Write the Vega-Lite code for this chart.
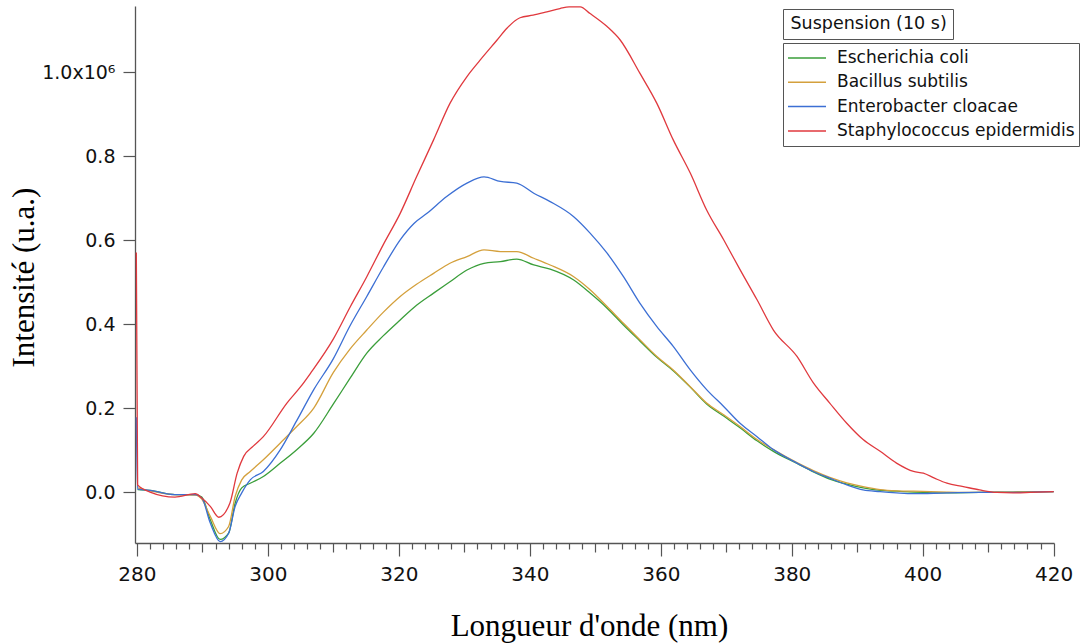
{
  "$schema": "https://vega.github.io/schema/vega-lite/v6.json",
  "width": 919,
  "height": 537,
  "autosize": {"type": "none"},
  "padding": {"left": 135, "top": 6, "right": 30, "bottom": 101},
  "background": "white",
  "config": {"view": {"stroke": null}, "font": "DejaVu Sans"},
  "datasets": {
    "spectra": [
      {"s":"Escherichia coli","x":280.1,"y":6000},{"s":"Escherichia coli","x":282.0,"y":4000},{"s":"Escherichia coli","x":285.8,"y":-6000},{"s":"Escherichia coli","x":288.9,"y":-6000},{"s":"Escherichia coli","x":289.9,"y":-12000},{"s":"Escherichia coli","x":291.2,"y":-66000},{"s":"Escherichia coli","x":292.7,"y":-113000},{"s":"Escherichia coli","x":294.0,"y":-98000},{"s":"Escherichia coli","x":295.0,"y":-26000},{"s":"Escherichia coli","x":296.0,"y":10000},{"s":"Escherichia coli","x":297.3,"y":21000},{"s":"Escherichia coli","x":299.3,"y":37000},{"s":"Escherichia coli","x":301.9,"y":69000},{"s":"Escherichia coli","x":304.4,"y":101000},{"s":"Escherichia coli","x":307.0,"y":140000},{"s":"Escherichia coli","x":310.0,"y":210000},{"s":"Escherichia coli","x":312.5,"y":270000},{"s":"Escherichia coli","x":315.1,"y":331000},{"s":"Escherichia coli","x":317.6,"y":372000},{"s":"Escherichia coli","x":320.2,"y":410000},{"s":"Escherichia coli","x":322.7,"y":445000},{"s":"Escherichia coli","x":325.3,"y":474000},{"s":"Escherichia coli","x":327.8,"y":501000},{"s":"Escherichia coli","x":330.4,"y":529000},{"s":"Escherichia coli","x":333.0,"y":545000},{"s":"Escherichia coli","x":335.5,"y":549000},{"s":"Escherichia coli","x":338.0,"y":555000},{"s":"Escherichia coli","x":340.6,"y":541000},{"s":"Escherichia coli","x":343.1,"y":531000},{"s":"Escherichia coli","x":346.7,"y":505000},{"s":"Escherichia coli","x":349.2,"y":474000},{"s":"Escherichia coli","x":351.8,"y":438000},{"s":"Escherichia coli","x":354.3,"y":398000},{"s":"Escherichia coli","x":356.8,"y":360000},{"s":"Escherichia coli","x":359.4,"y":321000},{"s":"Escherichia coli","x":361.9,"y":289000},{"s":"Escherichia coli","x":364.5,"y":250000},{"s":"Escherichia coli","x":367.0,"y":210000},{"s":"Escherichia coli","x":369.6,"y":181000},{"s":"Escherichia coli","x":372.1,"y":153000},{"s":"Escherichia coli","x":374.7,"y":122000},{"s":"Escherichia coli","x":377.2,"y":97000},{"s":"Escherichia coli","x":380.8,"y":68000},{"s":"Escherichia coli","x":383.3,"y":48000},{"s":"Escherichia coli","x":385.8,"y":31000},{"s":"Escherichia coli","x":388.4,"y":19000},{"s":"Escherichia coli","x":390.9,"y":10000},{"s":"Escherichia coli","x":393.5,"y":4000},{"s":"Escherichia coli","x":396.0,"y":2000},{"s":"Escherichia coli","x":398.6,"y":0},{"s":"Escherichia coli","x":403.7,"y":-2000},{"s":"Escherichia coli","x":408.7,"y":-1000},{"s":"Escherichia coli","x":413.8,"y":0},{"s":"Escherichia coli","x":420.0,"y":1000},

      {"s":"Bacillus subtilis","x":280.1,"y":10000},{"s":"Bacillus subtilis","x":282.0,"y":3000},{"s":"Bacillus subtilis","x":285.8,"y":-6000},{"s":"Bacillus subtilis","x":288.9,"y":-7000},{"s":"Bacillus subtilis","x":289.9,"y":-17000},{"s":"Bacillus subtilis","x":291.2,"y":-58000},{"s":"Bacillus subtilis","x":292.7,"y":-99000},{"s":"Bacillus subtilis","x":294.0,"y":-82000},{"s":"Bacillus subtilis","x":295.0,"y":-10000},{"s":"Bacillus subtilis","x":296.0,"y":29000},{"s":"Bacillus subtilis","x":297.3,"y":49000},{"s":"Bacillus subtilis","x":299.3,"y":77000},{"s":"Bacillus subtilis","x":301.9,"y":117000},{"s":"Bacillus subtilis","x":304.4,"y":156000},{"s":"Bacillus subtilis","x":307.0,"y":200000},{"s":"Bacillus subtilis","x":310.0,"y":285000},{"s":"Bacillus subtilis","x":312.5,"y":340000},{"s":"Bacillus subtilis","x":315.1,"y":386000},{"s":"Bacillus subtilis","x":317.6,"y":428000},{"s":"Bacillus subtilis","x":320.2,"y":466000},{"s":"Bacillus subtilis","x":322.7,"y":495000},{"s":"Bacillus subtilis","x":325.3,"y":521000},{"s":"Bacillus subtilis","x":327.8,"y":545000},{"s":"Bacillus subtilis","x":330.4,"y":561000},{"s":"Bacillus subtilis","x":333.0,"y":577000},{"s":"Bacillus subtilis","x":335.5,"y":573000},{"s":"Bacillus subtilis","x":338.0,"y":573000},{"s":"Bacillus subtilis","x":340.6,"y":557000},{"s":"Bacillus subtilis","x":343.1,"y":541000},{"s":"Bacillus subtilis","x":346.7,"y":513000},{"s":"Bacillus subtilis","x":349.2,"y":482000},{"s":"Bacillus subtilis","x":351.8,"y":442000},{"s":"Bacillus subtilis","x":354.3,"y":402000},{"s":"Bacillus subtilis","x":356.8,"y":363000},{"s":"Bacillus subtilis","x":359.4,"y":323000},{"s":"Bacillus subtilis","x":361.9,"y":291000},{"s":"Bacillus subtilis","x":364.5,"y":251000},{"s":"Bacillus subtilis","x":367.0,"y":212000},{"s":"Bacillus subtilis","x":369.6,"y":184000},{"s":"Bacillus subtilis","x":372.1,"y":156000},{"s":"Bacillus subtilis","x":374.7,"y":125000},{"s":"Bacillus subtilis","x":377.2,"y":101000},{"s":"Bacillus subtilis","x":380.8,"y":70000},{"s":"Bacillus subtilis","x":383.3,"y":51000},{"s":"Bacillus subtilis","x":385.8,"y":35000},{"s":"Bacillus subtilis","x":388.4,"y":22000},{"s":"Bacillus subtilis","x":390.9,"y":13000},{"s":"Bacillus subtilis","x":393.5,"y":6000},{"s":"Bacillus subtilis","x":396.0,"y":3000},{"s":"Bacillus subtilis","x":398.6,"y":2000},{"s":"Bacillus subtilis","x":403.7,"y":0},{"s":"Bacillus subtilis","x":408.7,"y":-1000},{"s":"Bacillus subtilis","x":413.8,"y":0},{"s":"Bacillus subtilis","x":420.0,"y":1000},

      {"s":"Enterobacter cloacae","x":279.9,"y":178000},{"s":"Enterobacter cloacae","x":280.1,"y":7000},{"s":"Enterobacter cloacae","x":282.0,"y":4000},{"s":"Enterobacter cloacae","x":285.8,"y":-6000},{"s":"Enterobacter cloacae","x":288.9,"y":-6000},{"s":"Enterobacter cloacae","x":289.9,"y":-14000},{"s":"Enterobacter cloacae","x":291.2,"y":-74000},{"s":"Enterobacter cloacae","x":292.7,"y":-118000},{"s":"Enterobacter cloacae","x":294.0,"y":-98000},{"s":"Enterobacter cloacae","x":295.0,"y":-34000},{"s":"Enterobacter cloacae","x":296.0,"y":-2000},{"s":"Enterobacter cloacae","x":297.3,"y":29000},{"s":"Enterobacter cloacae","x":299.3,"y":49000},{"s":"Enterobacter cloacae","x":301.9,"y":101000},{"s":"Enterobacter cloacae","x":304.4,"y":170000},{"s":"Enterobacter cloacae","x":307.0,"y":244000},{"s":"Enterobacter cloacae","x":310.0,"y":318000},{"s":"Enterobacter cloacae","x":312.5,"y":395000},{"s":"Enterobacter cloacae","x":315.1,"y":466000},{"s":"Enterobacter cloacae","x":317.6,"y":535000},{"s":"Enterobacter cloacae","x":320.2,"y":601000},{"s":"Enterobacter cloacae","x":322.3,"y":640000},{"s":"Enterobacter cloacae","x":324.3,"y":664000},{"s":"Enterobacter cloacae","x":327.3,"y":704000},{"s":"Enterobacter cloacae","x":330.4,"y":736000},{"s":"Enterobacter cloacae","x":333.0,"y":751000},{"s":"Enterobacter cloacae","x":335.5,"y":740000},{"s":"Enterobacter cloacae","x":338.0,"y":736000},{"s":"Enterobacter cloacae","x":340.6,"y":712000},{"s":"Enterobacter cloacae","x":343.1,"y":692000},{"s":"Enterobacter cloacae","x":346.7,"y":656000},{"s":"Enterobacter cloacae","x":349.2,"y":617000},{"s":"Enterobacter cloacae","x":351.8,"y":569000},{"s":"Enterobacter cloacae","x":354.3,"y":513000},{"s":"Enterobacter cloacae","x":356.8,"y":450000},{"s":"Enterobacter cloacae","x":359.4,"y":394000},{"s":"Enterobacter cloacae","x":361.9,"y":347000},{"s":"Enterobacter cloacae","x":364.5,"y":291000},{"s":"Enterobacter cloacae","x":367.0,"y":244000},{"s":"Enterobacter cloacae","x":369.6,"y":204000},{"s":"Enterobacter cloacae","x":372.1,"y":164000},{"s":"Enterobacter cloacae","x":374.7,"y":132000},{"s":"Enterobacter cloacae","x":377.2,"y":101000},{"s":"Enterobacter cloacae","x":380.8,"y":69000},{"s":"Enterobacter cloacae","x":383.3,"y":49000},{"s":"Enterobacter cloacae","x":385.8,"y":33000},{"s":"Enterobacter cloacae","x":388.4,"y":17000},{"s":"Enterobacter cloacae","x":390.9,"y":5000},{"s":"Enterobacter cloacae","x":393.5,"y":1000},{"s":"Enterobacter cloacae","x":396.0,"y":-2000},{"s":"Enterobacter cloacae","x":398.6,"y":-4000},{"s":"Enterobacter cloacae","x":403.7,"y":-2000},{"s":"Enterobacter cloacae","x":408.7,"y":-1000},{"s":"Enterobacter cloacae","x":413.8,"y":-1000},{"s":"Enterobacter cloacae","x":420.0,"y":1000},

      {"s":"Staphylococcus epidermidis","x":279.9,"y":571000},{"s":"Staphylococcus epidermidis","x":280.1,"y":17000},{"s":"Staphylococcus epidermidis","x":282.0,"y":0},{"s":"Staphylococcus epidermidis","x":285.8,"y":-12000},{"s":"Staphylococcus epidermidis","x":288.9,"y":-4000},{"s":"Staphylococcus epidermidis","x":289.9,"y":-14000},{"s":"Staphylococcus epidermidis","x":291.2,"y":-34000},{"s":"Staphylococcus epidermidis","x":292.5,"y":-60000},{"s":"Staphylococcus epidermidis","x":294.2,"y":-26000},{"s":"Staphylococcus epidermidis","x":295.3,"y":45000},{"s":"Staphylococcus epidermidis","x":296.3,"y":85000},{"s":"Staphylococcus epidermidis","x":297.8,"y":110000},{"s":"Staphylococcus epidermidis","x":299.3,"y":132000},{"s":"Staphylococcus epidermidis","x":302.9,"y":212000},{"s":"Staphylococcus epidermidis","x":305.0,"y":251000},{"s":"Staphylococcus epidermidis","x":306.5,"y":283000},{"s":"Staphylococcus epidermidis","x":310.0,"y":365000},{"s":"Staphylococcus epidermidis","x":312.6,"y":442000},{"s":"Staphylococcus epidermidis","x":315.1,"y":513000},{"s":"Staphylococcus epidermidis","x":317.6,"y":589000},{"s":"Staphylococcus epidermidis","x":320.2,"y":664000},{"s":"Staphylococcus epidermidis","x":322.7,"y":751000},{"s":"Staphylococcus epidermidis","x":325.3,"y":839000},{"s":"Staphylococcus epidermidis","x":327.8,"y":926000},{"s":"Staphylococcus epidermidis","x":330.4,"y":990000},{"s":"Staphylococcus epidermidis","x":332.4,"y":1029000},{"s":"Staphylococcus epidermidis","x":335.0,"y":1077000},{"s":"Staphylococcus epidermidis","x":336.5,"y":1105000},{"s":"Staphylococcus epidermidis","x":338.5,"y":1130000},{"s":"Staphylococcus epidermidis","x":340.5,"y":1136000},{"s":"Staphylococcus epidermidis","x":342.6,"y":1144000},{"s":"Staphylococcus epidermidis","x":344.6,"y":1152000},{"s":"Staphylococcus epidermidis","x":346.0,"y":1156000},{"s":"Staphylococcus epidermidis","x":347.7,"y":1156000},{"s":"Staphylococcus epidermidis","x":349.2,"y":1140000},{"s":"Staphylococcus epidermidis","x":351.8,"y":1109000},{"s":"Staphylococcus epidermidis","x":353.8,"y":1077000},{"s":"Staphylococcus epidermidis","x":356.8,"y":998000},{"s":"Staphylococcus epidermidis","x":359.4,"y":926000},{"s":"Staphylococcus epidermidis","x":361.9,"y":839000},{"s":"Staphylococcus epidermidis","x":364.5,"y":760000},{"s":"Staphylococcus epidermidis","x":367.0,"y":672000},{"s":"Staphylococcus epidermidis","x":369.6,"y":601000},{"s":"Staphylococcus epidermidis","x":372.1,"y":530000},{"s":"Staphylococcus epidermidis","x":374.7,"y":458000},{"s":"Staphylococcus epidermidis","x":377.2,"y":386000},{"s":"Staphylococcus epidermidis","x":380.8,"y":323000},{"s":"Staphylococcus epidermidis","x":383.3,"y":260000},{"s":"Staphylococcus epidermidis","x":385.8,"y":212000},{"s":"Staphylococcus epidermidis","x":388.4,"y":164000},{"s":"Staphylococcus epidermidis","x":390.9,"y":125000},{"s":"Staphylococcus epidermidis","x":393.5,"y":97000},{"s":"Staphylococcus epidermidis","x":396.0,"y":69000},{"s":"Staphylococcus epidermidis","x":398.6,"y":49000},{"s":"Staphylococcus epidermidis","x":400.1,"y":45000},{"s":"Staphylococcus epidermidis","x":401.8,"y":33000},{"s":"Staphylococcus epidermidis","x":403.7,"y":21000},{"s":"Staphylococcus epidermidis","x":406.2,"y":13000},{"s":"Staphylococcus epidermidis","x":408.7,"y":5000},{"s":"Staphylococcus epidermidis","x":411.3,"y":-1000},{"s":"Staphylococcus epidermidis","x":413.8,"y":-2000},{"s":"Staphylococcus epidermidis","x":416.4,"y":-1000},{"s":"Staphylococcus epidermidis","x":420.0,"y":1000}
    ],
    "legendtitle": [{"t": "Suspension (10 s)"}]
  },
  "data": {"name": "spectra"},
  "layer": [
    {
      "mark": {"type": "line", "strokeWidth": 1.3, "clip": true, "interpolate": "monotone"},
      "encoding": {
        "x": {
          "field": "x", "type": "quantitative",
          "scale": {"domain": [279.7, 420.05], "nice": false, "zero": false},
          "axis": {
            "orient": "bottom", "values": [280, 300, 320, 340, 360, 380, 400, 420], "format": "d",
            "tickSize": 13, "tickColor": "#555", "tickWidth": 1.2, "domainColor": "#555", "domainWidth": 1.3,
            "labelFontSize": 20, "labelFont": "DejaVu Sans", "labelColor": "#111", "labelPadding": 8,
            "labelFlush": false, "labelOverlap": false, "grid": false,
            "title": "Longueur d'onde (nm)", "titleFont": "Liberation Serif", "titleFontSize": 31,
            "titleFontWeight": "normal", "titleColor": "#000", "titleX": 454, "titleY": 92,
            "titleAlign": "center", "titleBaseline": "alphabetic"
          }
        },
        "y": {
          "field": "y", "type": "quantitative",
          "scale": {"domain": [-121400, 1158000], "nice": false, "zero": false},
          "axis": {
            "values": [0, 200000, 400000, 600000, 800000, 1000000],
            "labelExpr": "datum.value == 1000000 ? '1.0x10⁶' : format(datum.value / 1000000, '.1f')",
            "tickSize": 12, "tickColor": "#555", "tickWidth": 1.2, "domainColor": "#555", "domainWidth": 1.3,
            "labelFontSize": 19, "labelFont": "DejaVu Sans", "labelColor": "#111", "labelPadding": 8,
            "labelFlush": false, "labelOverlap": false, "grid": false,
            "title": "Intensité (u.a.)", "titleFont": "Liberation Serif", "titleFontSize": 31,
            "titleFontWeight": "normal", "titleColor": "#000", "titleAngle": -90,
            "titleX": -102, "titleY": 271, "titleAlign": "center", "titleBaseline": "alphabetic"
          }
        },
        "color": {
          "field": "s", "type": "nominal",
          "scale": {
            "domain": ["Escherichia coli", "Bacillus subtilis", "Enterobacter cloacae", "Staphylococcus epidermidis"],
            "range": ["#3a9e3a", "#d4a03c", "#3c6fd4", "#e0393e"]
          },
          "legend": {
            "orient": "none", "legendX": 648, "legendY": 37, "title": null,
            "strokeColor": "#555", "fillColor": "white", "padding": 4,
            "symbolType": "stroke", "symbolSize": 1444, "symbolStrokeWidth": 1.5,
            "labelFontSize": 17, "labelFont": "DejaVu Sans", "labelColor": "#111", "labelOffset": 10,
            "labelLimit": 500, "clipHeight": 22, "rowPadding": 2.3
          }
        }
      }
    },
    {
      "mark": {"type": "point", "opacity": 0},
      "encoding": {
        "x": {
          "field": "x", "type": "quantitative",
          "axis": {
            "orient": "bottom", "values": [290, 310, 330, 350, 370, 390, 410],
            "tickSize": 9, "tickColor": "#555", "tickWidth": 1.2, "domain": false, "labels": false,
            "grid": false, "title": null
          }
        }
      }
    },
    {
      "mark": {"type": "point", "opacity": 0},
      "encoding": {
        "x": {
          "field": "x", "type": "quantitative",
          "axis": {
            "orient": "bottom",
            "values": [282,284,286,288,292,294,296,298,302,304,306,308,312,314,316,318,322,324,326,328,332,334,336,338,342,344,346,348,352,354,356,358,362,364,366,368,372,374,376,378,382,384,386,388,392,394,396,398,402,404,406,408,412,414,416,418],
            "tickSize": 6, "tickColor": "#555", "tickWidth": 1.2, "domain": false, "labels": false,
            "grid": false, "title": null
          }
        }
      }
    },
    {
      "data": {"name": "legendtitle"},
      "mark": {"type": "point", "opacity": 0},
      "encoding": {
        "shape": {
          "field": "t", "type": "nominal",
          "legend": {
            "orient": "none", "legendX": 648, "legendY": 3, "title": null,
            "strokeColor": "#555", "fillColor": "white", "padding": 6,
            "symbolSize": 0.01, "symbolOpacity": 0, "symbolStrokeWidth": 0, "labelOffset": -16,
            "labelFontSize": 17.5, "labelFont": "DejaVu Sans", "labelColor": "#111",
            "labelLimit": 500, "clipHeight": 18
          }
        }
      }
    }
  ],
  "resolve": {"axis": {"x": "independent"}}
}
